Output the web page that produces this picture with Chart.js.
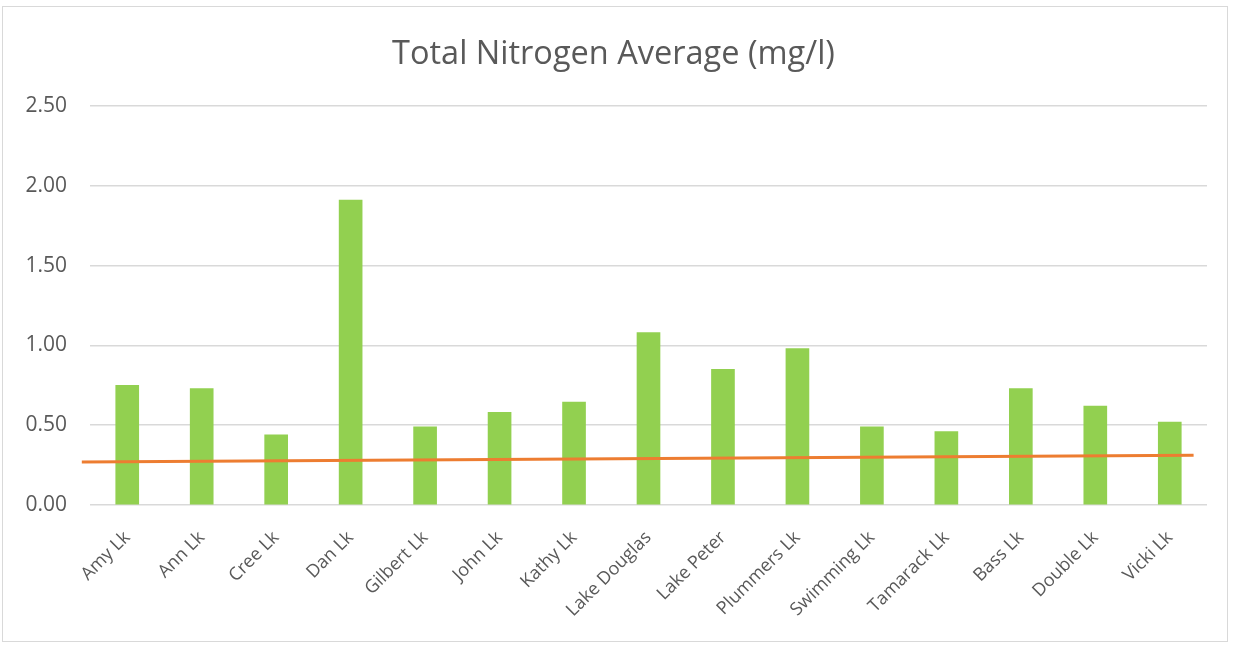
<!DOCTYPE html>
<html>
<head>
<meta charset="utf-8">
<script src="https://cdn.jsdelivr.net/npm/chart.js@4.4.1/dist/chart.umd.min.js"></script>
<style>
  html, body { margin: 0; padding: 0; background: #ffffff; }
  #wrap { position: absolute; left: 2px; top: 6px; width: 1226px; height: 636px; border: 1px solid #d9d9d9; box-sizing: border-box; }
  #c { position: absolute; left: 0; top: 0; }
</style>
</head>
<body>
<div id="wrap"></div>
<canvas id="c" width="1235" height="649"></canvas>
<script>
const categories = ["Amy Lk", "Ann Lk", "Cree Lk", "Dan Lk", "Gilbert Lk", "John Lk", "Kathy Lk", "Lake Douglas", "Lake Peter", "Plummers Lk", "Swimming Lk", "Tamarack Lk", "Bass Lk", "Double Lk", "Vicki Lk"];
const nitrogenAvg = [0.75, 0.73, 0.44, 1.91, 0.49, 0.58, 0.645, 1.08, 0.85, 0.98, 0.49, 0.46, 0.73, 0.62, 0.52];
// orange reference line: read at its two ends (x in category-index units)
const lineX = [-0.61, 14.32];
const lineY = [0.27, 0.312];
const yTicks = [0, 0.5, 1.0, 1.5, 2.0, 2.5];

const FONT = "'Open Sans', 'Liberation Sans', sans-serif";
const TXT = '#595959';

new Chart(document.getElementById('c'), {
  data: {
    labels: categories,
    datasets: [
      {
        type: 'line',
        data: lineX.map((x, i) => ({ x: x, y: lineY[i] })),
        xAxisID: 'x2',
        borderColor: '#ED7D31',
        borderWidth: 3,
        pointRadius: 0,
        fill: false,
        clip: false,
        order: 0
      },
      {
        type: 'bar',
        data: nitrogenAvg,
        backgroundColor: '#92D050',
        borderWidth: 0,
        barThickness: 23,
        grouped: false,
        order: 1
      }
    ]
  },
  options: {
    responsive: false,
    animation: false,
    layout: { padding: { left: 20, right: 28, top: 0, bottom: 8 } },
    plugins: {
      legend: { display: false },
      tooltip: { enabled: false },
      title: {
        display: true,
        text: 'Total Nitrogen Average (mg/l)',
        color: TXT,
        font: { family: FONT, size: 32.5, weight: 'normal' },
        padding: { top: 35, bottom: 32 }
      }
    },
    scales: {
      x: {
        type: 'category',
        offset: true,
        grid: { display: false, drawTicks: false },
        border: { display: false },
        ticks: {
          color: TXT,
          font: { family: FONT, size: 18 },
          minRotation: 45,
          maxRotation: 45,
          padding: 22,
          autoSkip: false
        },
        afterFit: (s) => { s.height = 136; }
      },
      x2: {
        type: 'linear',
        display: false,
        min: -0.5,
        max: 14.5
      },
      y: {
        min: 0,
        max: 2.5,
        afterBuildTicks: (s) => { s.ticks = yTicks.map(v => ({ value: v })); },
        grid: { color: '#d9d9d9', lineWidth: 1.5, drawTicks: false },
        border: { display: false },
        ticks: {
          color: TXT,
          font: { family: FONT, size: 21 },
          padding: 23,
          callback: (v) => Number(v).toFixed(2)
        },
        afterFit: (s) => { s.width = 70; }
      }
    }
  }
});
</script>
</body>
</html>
